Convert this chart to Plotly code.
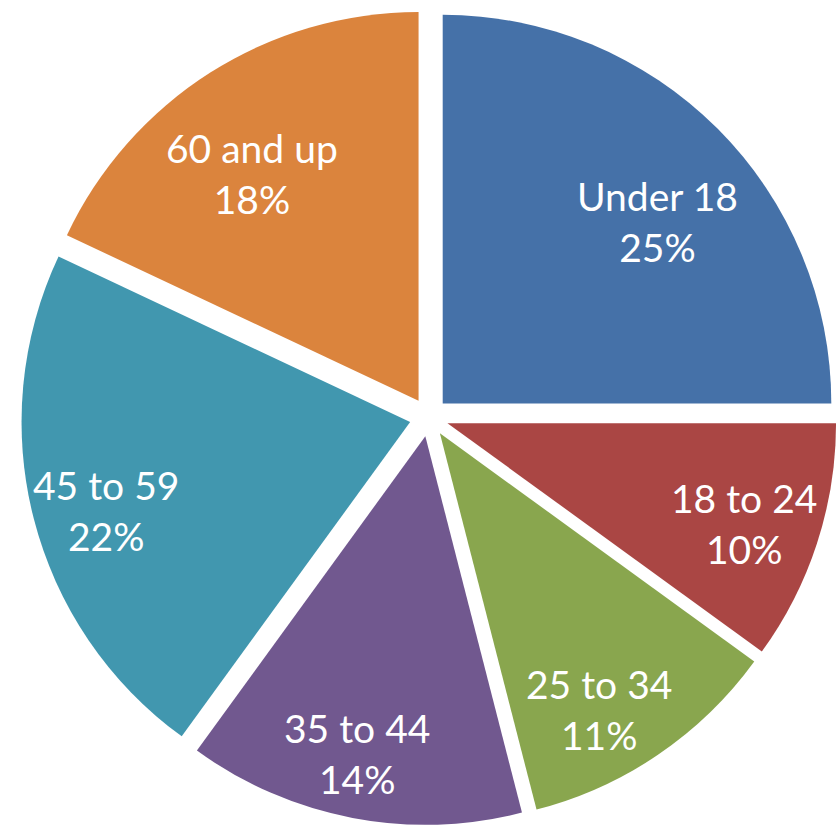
import math
import plotly.graph_objects as go

# Age distribution, share of total (%)
age_groups = ["Under 18", "18 to 24", "25 to 34", "35 to 44", "45 to 59", "60 and up"]
shares = [25, 10, 11, 14, 22, 18]
slice_colors = ["#4571A8", "#AA4644", "#89A64E", "#71588F", "#4197AF", "#DB843D"]

# Label placement inside each wedge: distance from the wedge tip (fraction of
# the radius) and a small angular nudge away from the wedge bisector (degrees)
label_radius = [0.724, 0.805, 0.819, 0.835, 0.816, 0.724]
label_nudge_deg = [4.7, 0.7, 4.3, 1.3, -1.9, -3.9]

W, H = 837, 826
PULL = 0.05
DOMAIN_X = [0.025, 1.0]
DOMAIN_Y = [0.0, 0.99]

fig = go.Figure(
    go.Pie(
        labels=age_groups,
        values=shares,
        sort=False,
        direction="clockwise",
        rotation=0,
        pull=[PULL] * len(shares),
        marker=dict(colors=slice_colors, line=dict(width=0)),
        textinfo="none",
        domain=dict(x=DOMAIN_X, y=DOMAIN_Y),
        showlegend=False,
        hoverinfo="label+percent",
    )
)

# Pie geometry in pixels, following Plotly's own layout of a pie trace
dom_w = W * (DOMAIN_X[1] - DOMAIN_X[0])
dom_h = H * (DOMAIN_Y[1] - DOMAIN_Y[0])
radius = min(dom_w, dom_h) / 2 / (1 + PULL)
cx = W * (DOMAIN_X[0] + DOMAIN_X[1]) / 2
cy = H * (1 - DOMAIN_Y[0]) - dom_h / 2

total = sum(shares)
annotations = []
start = 0.0
for name, val, rf, nudge in zip(age_groups, shares, label_radius, label_nudge_deg):
    sweep = 360.0 * val / total
    mid = math.radians(start + sweep / 2)
    # tip of the pulled-out wedge
    tip_x = cx + PULL * radius * math.sin(mid)
    tip_y = cy - PULL * radius * math.cos(mid)
    ang = mid + math.radians(nudge)
    px = tip_x + rf * radius * math.sin(ang)
    py = tip_y - rf * radius * math.cos(ang)
    annotations.append(
        dict(
            x=px / W,
            y=1 - py / H,
            xref="paper",
            yref="paper",
            xanchor="center",
            yanchor="middle",
            text=f"{name}<br>{val / total:.0%}",
            showarrow=False,
            align="center",
            font=dict(family="Lato, 'Open Sans', sans-serif", size=39, color="#FFFFFF"),
        )
    )
    start += sweep

fig.update_layout(
    width=W,
    height=H,
    margin=dict(l=0, r=0, t=0, b=0),
    paper_bgcolor="#FFFFFF",
    plot_bgcolor="#FFFFFF",
    annotations=annotations,
)

fig.write_html("out.html")
